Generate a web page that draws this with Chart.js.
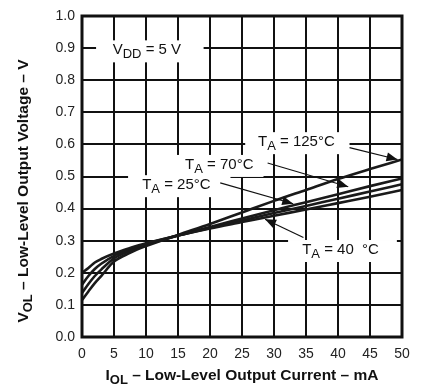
<!DOCTYPE html>
<html>
<head>
<meta charset="utf-8">
<script src="https://cdn.jsdelivr.net/npm/chart.js@4.4.0/dist/chart.umd.min.js"></script>
<style>
  html, body { margin: 0; padding: 0; background: #fff; }
  #wrap { width: 427px; height: 389px; }
</style>
</head>
<body>
<div id="wrap"><canvas id="volChart"></canvas></div>
<script>
// I_OL in mA
const currents = [0, 1, 2, 3, 5, 7.5, 10, 15, 20, 25, 30, 35, 40, 45, 50];
// V_OL in V, one list per temperature
const volMinus40 = [0.2, 0.215, 0.232, 0.243, 0.26, 0.277, 0.292, 0.316, 0.338, 0.358, 0.378, 0.397, 0.417, 0.437, 0.458];
const vol25 = [0.163, 0.19, 0.212, 0.228, 0.253, 0.273, 0.29, 0.316, 0.34, 0.363, 0.386, 0.408, 0.431, 0.453, 0.476];
const vol70 = [0.137, 0.165, 0.19, 0.21, 0.245, 0.268, 0.287, 0.316, 0.343, 0.369, 0.395, 0.42, 0.445, 0.47, 0.494];
const vol125 = [0.115, 0.142, 0.168, 0.19, 0.235, 0.262, 0.283, 0.318, 0.352, 0.388, 0.424, 0.458, 0.492, 0.523, 0.553];
const xTicks = [0, 5, 10, 15, 20, 25, 30, 35, 40, 45, 50];
const yTicks = ['0.0', '0.1', '0.2', '0.3', '0.4', '0.5', '0.6', '0.7', '0.8', '0.9', '1.0'];

const FONT = '"Liberation Sans", Arial, Helvetica, sans-serif';

function toPoints(ys) {
  return currents.map((x, i) => ({ x: x, y: ys[i] }));
}

function curve(label, ys) {
  return {
    label: label,
    data: toPoints(ys),
    borderColor: '#1a1a1a',
    borderWidth: 2.6,
    pointRadius: 0,
    fill: false,
    cubicInterpolationMode: 'monotone'
  };
}

// rich text: parts = [[text, isSub], ...]
function drawRich(ctx, parts, x, y, size, bold) {
  let cx = x;
  parts.forEach(p => {
    const sub = p[1];
    const s = sub ? Math.round(size * 0.85) : size;
    ctx.font = (bold ? 'bold ' : '') + s + 'px ' + FONT;
    ctx.fillText(p[0], cx, sub ? y + size * 0.3 : y);
    cx += ctx.measureText(p[0]).width;
  });
  return cx - x;
}

function measureRich(ctx, parts, size, bold) {
  let w = 0;
  parts.forEach(p => {
    const s = p[1] ? Math.round(size * 0.85) : size;
    ctx.font = (bold ? 'bold ' : '') + s + 'px ' + FONT;
    w += ctx.measureText(p[0]).width;
  });
  return w;
}

const labels = [
  { parts: [['V', false], ['DD', true], [' = 5 V', false]], x: 4.8, y: 0.893, bg: [2.2, 19.0] },
  { parts: [['T', false], ['A', true], [' = 125°C', false]], x: 27.5, y: 0.607, bg: [25.5, 41.8],
    from: [41.8, 0.59], to: [49.3, 0.553] },
  { parts: [['T', false], ['A', true], [' = 70°C', false]], x: 16.1, y: 0.536,
    from: [29.0, 0.542], to: [41.6, 0.468] },
  { parts: [['T', false], ['A', true], [' = 25°C', false]], x: 9.4, y: 0.473, bg: [7.2, 23.2],
    from: [21.6, 0.48], to: [33.0, 0.415] },
  { parts: [['T', false], ['A', true], [' = 40  °C', false]], x: 34.4, y: 0.271, bg: [32.2, 49.2],
    from: [34.6, 0.31], to: [28.6, 0.367] }
];

function arrow(ctx, x1, y1, x2, y2) {
  ctx.beginPath();
  ctx.moveTo(x1, y1);
  ctx.lineTo(x2, y2);
  ctx.lineWidth = 1.2;
  ctx.strokeStyle = '#111';
  ctx.stroke();
  const a = Math.atan2(y2 - y1, x2 - x1);
  const len = 11, half = 4.5;
  ctx.beginPath();
  ctx.moveTo(x2, y2);
  ctx.lineTo(x2 - len * Math.cos(a) + half * Math.sin(a), y2 - len * Math.sin(a) - half * Math.cos(a));
  ctx.lineTo(x2 - len * Math.cos(a) - half * Math.sin(a), y2 - len * Math.sin(a) + half * Math.cos(a));
  ctx.closePath();
  ctx.fillStyle = '#111';
  ctx.fill();
}

const notes = {
  id: 'notes',
  beforeDatasetsDraw(chart) {
    const ctx = chart.ctx;
    const xs = chart.scales.x, ys = chart.scales.y;
    ctx.save();
    labels.forEach(l => {
      const px = xs.getPixelForValue(l.x), py = ys.getPixelForValue(l.y);
      const w = measureRich(ctx, l.parts, 15, false);
      let x0 = px - 10, x1 = px + w + 10;
      if (l.bg) { x0 = xs.getPixelForValue(l.bg[0]); x1 = xs.getPixelForValue(l.bg[1]); }
      ctx.fillStyle = '#fff';
      ctx.fillRect(x0, py - 10, x1 - x0, 22);
    });
    ctx.restore();
  },
  afterDatasetsDraw(chart) {
    const ctx = chart.ctx;
    const xs = chart.scales.x, ys = chart.scales.y;
    const a = chart.chartArea;
    ctx.save();
    ctx.textBaseline = 'middle';
    ctx.textAlign = 'left';
    labels.forEach(l => {
      ctx.fillStyle = '#111';
      drawRich(ctx, l.parts, xs.getPixelForValue(l.x), ys.getPixelForValue(l.y), 15, false);
      if (l.from) {
        arrow(ctx, xs.getPixelForValue(l.from[0]), ys.getPixelForValue(l.from[1]),
          xs.getPixelForValue(l.to[0]), ys.getPixelForValue(l.to[1]));
      }
    });
    // frame
    ctx.lineWidth = 3;
    ctx.strokeStyle = '#111';
    ctx.strokeRect(a.left, a.top, a.right - a.left, a.bottom - a.top);

    // axis titles
    ctx.fillStyle = '#111';
    ctx.textBaseline = 'middle';
    const xt = [['I', false], ['OL', true], [' – Low-Level Output Current – mA', false]];
    const xw = measureRich(ctx, xt, 15.5, true);
    drawRich(ctx, xt, 242 - xw / 2, 376, 15.5, true);
    const yt = [['V', false], ['OL', true], [' – Low-Level Output Voltage – V', false]];
    const yw = measureRich(ctx, yt, 15.5, true);
    ctx.translate(24, 191);
    ctx.rotate(-Math.PI / 2);
    drawRich(ctx, yt, -yw / 2, 0, 15.5, true);
    ctx.restore();
  }
};

new Chart(document.getElementById('volChart'), {
  type: 'line',
  data: {
    datasets: [
      curve('TA = -40°C', volMinus40),
      curve('TA = 25°C', vol25),
      curve('TA = 70°C', vol70),
      curve('TA = 125°C', vol125)
    ]
  },
  options: {
    responsive: true,
    maintainAspectRatio: false,
    animation: false,
    layout: {
      padding: { left: 0, top: 16, right: 25, bottom: 0 }
    },
    plugins: {
      legend: { display: false },
      tooltip: { enabled: false }
    },
    scales: {
      x: {
        type: 'linear',
        min: 0,
        max: 50,
        afterFit: s => { s.height = 52; },
        afterBuildTicks: s => { s.ticks = xTicks.map(v => ({ value: v })); },
        grid: { color: '#111', lineWidth: 2, drawTicks: false },
        border: { display: false },
        ticks: {
          color: '#222',
          padding: 9,
          maxRotation: 0,
          font: { family: FONT, size: 14 }
        }
      },
      y: {
        type: 'linear',
        min: 0,
        max: 1,
        afterFit: s => { s.width = 82; },
        afterBuildTicks: s => { s.ticks = yTicks.map(v => ({ value: parseFloat(v) })); },
        grid: { color: '#111', lineWidth: 2, drawTicks: false },
        border: { display: false },
        ticks: {
          color: '#222',
          padding: 7,
          font: { family: FONT, size: 14 },
          callback: (v, i) => yTicks[i]
        }
      }
    }
  },
  plugins: [notes]
});
</script>
</body>
</html>
